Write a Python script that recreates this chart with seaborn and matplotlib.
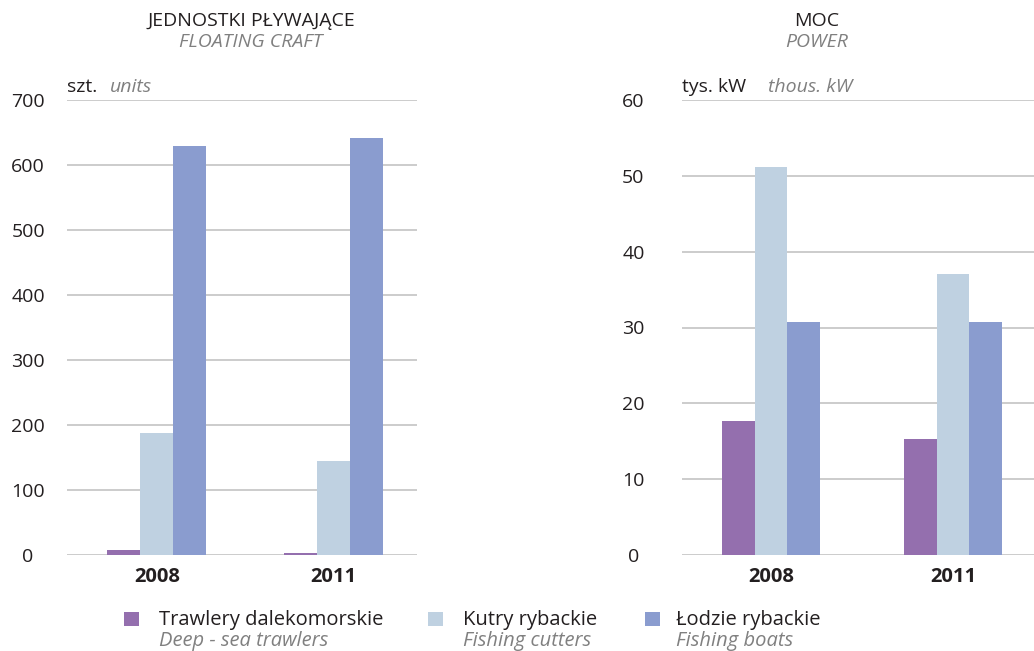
import matplotlib
matplotlib.use("Agg")
import matplotlib.pyplot as plt
from matplotlib.patches import Rectangle
import pandas as pd
import seaborn as sns

years = ["2008", "2011"]
categories = ["Trawlery dalekomorskie", "Kutry rybackie", "Łodzie rybackie"]
categories_en = ["Deep - sea trawlers", "Fishing cutters", "Fishing boats"]

# floating craft, units
units_trawlers = [7, 3]
units_cutters = [188, 145]
units_boats = [630, 641]

# power, thous. kW
power_trawlers = [17.7, 15.3]
power_cutters = [51.2, 37.1]
power_boats = [30.7, 30.7]

colors = ["#946FAE", "#BFD1E1", "#8A9CCF"]
DARK = "#231F20"
GREY = "#808080"
GRID = "#C8C8C8"

W, H = 1034, 651


def to_long(a, b, c):
    rows = []
    for cat, vals in zip(categories, [a, b, c]):
        for yr, v in zip(years, vals):
            rows.append({"year": yr, "category": cat, "value": v})
    return pd.DataFrame(rows)


def px(x, y):
    return x / W, 1 - y / H


sns.set_theme(style="white")
plt.rcParams["font.family"] = ["Open Sans", "DejaVu Sans"]

fig = plt.figure(figsize=(W / 100, H / 100), dpi=100)

panels = [
    dict(df=to_long(units_trawlers, units_cutters, units_boats), x0=67, x1=417,
         ylim=700, step=100, xlim=(-0.508, 1.47), width=0.56, pad=28,
         title="JEDNOSTKI PŁYWAJĄCE", title_en="FLOATING CRAFT", tx=251,
         unit="szt.", unit_en="units", ux_en=110),
    dict(df=to_long(power_trawlers, power_cutters, power_boats), x0=682, x1=1034,
         ylim=60, step=10, xlim=(-0.49, 1.445), width=0.535, pad=35,
         title="MOC", title_en="POWER", tx=817,
         unit="tys. kW", unit_en="thous. kW", ux_en=768),
]

for p in panels:
    l, b = px(p["x0"], 555)
    r, t = px(p["x1"], 100)
    ax = fig.add_axes([l, b, r - l, t - b])
    sns.barplot(data=p["df"], x="year", y="value", hue="category",
                hue_order=categories, palette=colors, width=p["width"],
                saturation=1, gap=0, legend=False, ax=ax, errorbar=None)
    ax.set_ylim(0, p["ylim"])
    ax.set_xlim(*p["xlim"])
    ax.set_yticks(range(0, p["ylim"] + 1, p["step"]))
    ax.yaxis.grid(True, color=GRID, linewidth=1.3)
    ax.set_axisbelow(True)
    for s in ax.spines.values():
        s.set_visible(False)
    ax.set_xlabel("")
    ax.set_ylabel("")
    ax.tick_params(axis="y", length=0, pad=p["pad"], labelsize=14, labelcolor=DARK)
    ax.tick_params(axis="x", length=0, pad=9, labelsize=14.5, labelcolor=DARK)
    for lab in ax.get_yticklabels():
        lab.set_horizontalalignment("center")
    for lab in ax.get_xticklabels():
        lab.set_fontweight("bold")
    for bar in ax.patches:
        bar.set_edgecolor("none")

    fig.text(*px(p["tx"], 21), p["title"], ha="center", va="center",
             fontsize=14, color=DARK)
    fig.text(*px(p["tx"], 42), p["title_en"], ha="center", va="center",
             fontsize=14, color=GREY, style="italic")
    fig.text(*px(p["x0"], 87), p["unit"], ha="left", va="center",
             fontsize=14, color=DARK)
    fig.text(*px(p["ux_en"], 87), p["unit_en"], ha="left", va="center",
             fontsize=14, color=GREY, style="italic")

# legend drawn by hand: square, Polish label, English label below
square_x = [124, 428, 645]
text_x = [159, 463, 676]
for sq, tx, col, pl, en in zip(square_x, text_x, colors, categories, categories_en):
    sx, sy = px(sq, 626)
    fig.patches.append(Rectangle((sx, sy), 15 / W, 14 / H, transform=fig.transFigure,
                                 facecolor=col, edgecolor="none"))
    fig.text(*px(tx, 620), pl, ha="left", va="center", fontsize=14.5, color=DARK)
    fig.text(*px(tx, 641), en, ha="left", va="center", fontsize=14.5,
             color=GREY, style="italic")

fig.savefig("out.png", dpi=100)
